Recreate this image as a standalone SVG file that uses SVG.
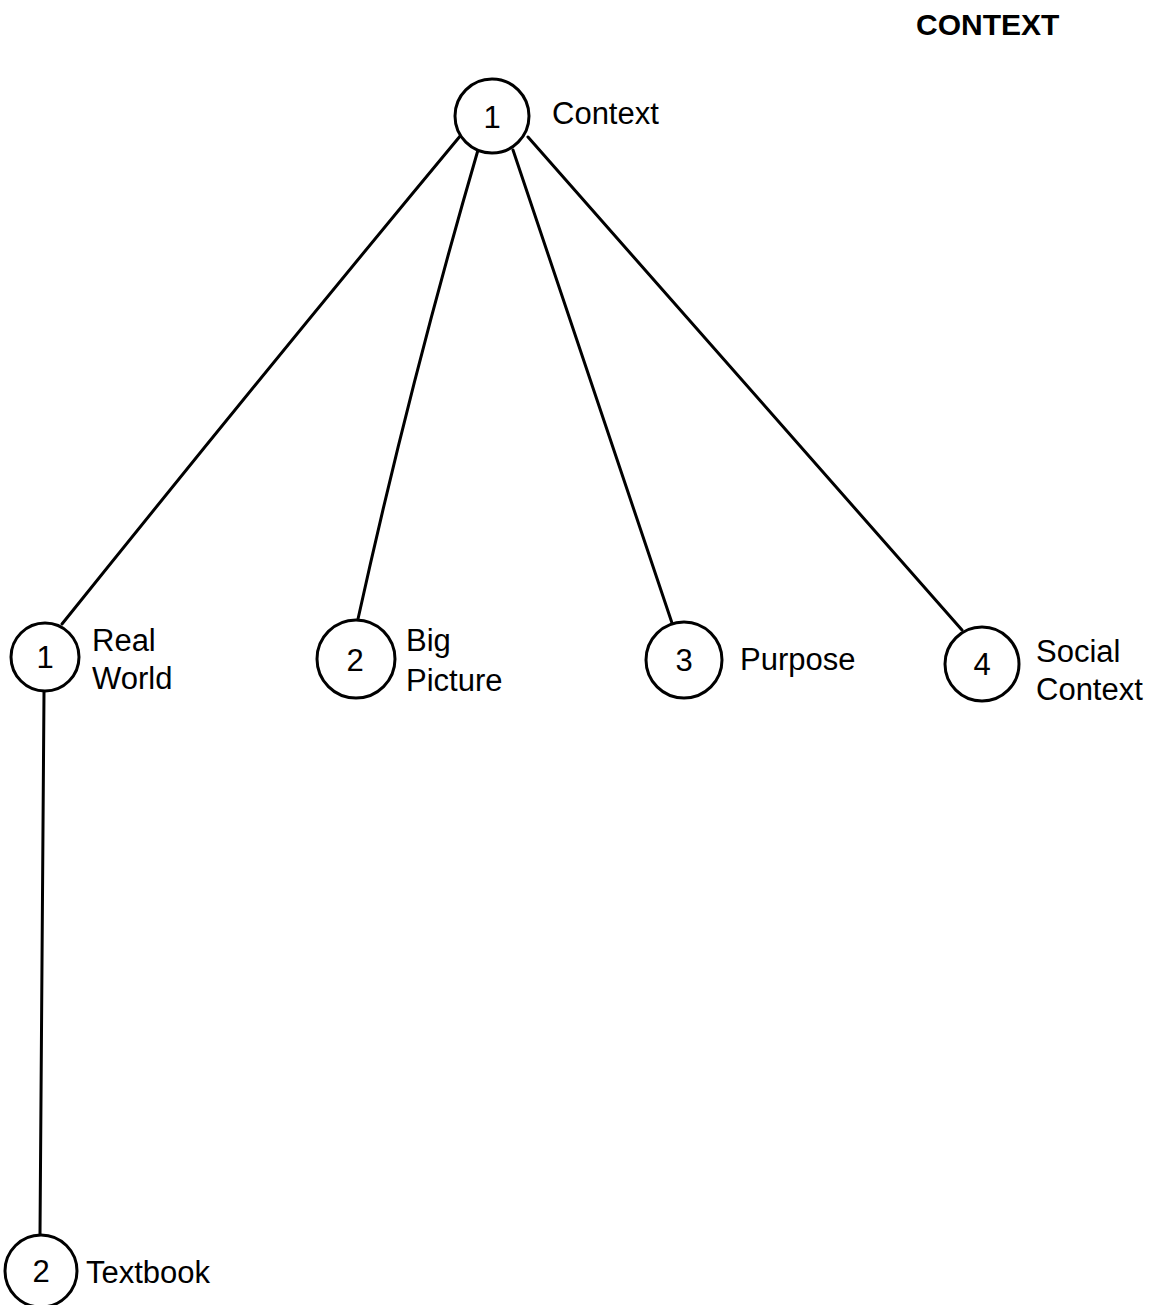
<svg xmlns="http://www.w3.org/2000/svg" width="1163" height="1305" viewBox="0 0 1163 1305">
<style>
  .edge { fill: none; stroke: #000; stroke-width: 3; stroke-linecap: round; }
  .node { fill: #fff; stroke: #000; stroke-width: 3; }
  .num { font-family: "Liberation Sans", Arial, sans-serif; font-size: 31px; fill: #000; text-anchor: middle; }
  .lbl { font-family: "Liberation Sans", Arial, sans-serif; font-size: 31px; fill: #000; }
  .title { font-family: "Liberation Sans", Arial, sans-serif; font-size: 30px; font-weight: bold; fill: #000; }
</style>
<rect x="0" y="0" width="1163" height="1305" fill="#fff"/>
<text class="title" x="916" y="35">CONTEXT</text>
<g id="connectors">
  <path class="edge" d="M461,135 Q270,365 62,624"/>
  <path class="edge" d="M478,150 Q410,383 358,619"/>
  <path class="edge" d="M513,150 L672,623"/>
  <path class="edge" d="M528,137 L962,630"/>
  <path class="edge" d="M44,692 L40,1234"/>
</g>
<g id="node-context">
  <circle class="node" cx="492" cy="116" r="37"/>
  <text class="num" x="492" y="128">1</text>
  <text class="lbl" x="552" y="124">Context</text>
</g>
<g id="node-real-world">
  <circle class="node" cx="45" cy="657" r="34"/>
  <text class="num" x="45" y="668">1</text>
  <text class="lbl" x="92" y="651">Real</text>
  <text class="lbl" x="92" y="689">World</text>
</g>
<g id="node-big-picture">
  <circle class="node" cx="356" cy="659" r="39"/>
  <text class="num" x="355" y="671">2</text>
  <text class="lbl" x="406" y="651">Big</text>
  <text class="lbl" x="406" y="691">Picture</text>
</g>
<g id="node-purpose">
  <circle class="node" cx="684" cy="660" r="38"/>
  <text class="num" x="684" y="671">3</text>
  <text class="lbl" x="740" y="670">Purpose</text>
</g>
<g id="node-social-context">
  <circle class="node" cx="982" cy="664" r="37"/>
  <text class="num" x="982" y="675">4</text>
  <text class="lbl" x="1036" y="662">Social</text>
  <text class="lbl" x="1036" y="700">Context</text>
</g>
<g id="node-textbook">
  <circle class="node" cx="41" cy="1271" r="36"/>
  <text class="num" x="41" y="1282">2</text>
  <text class="lbl" x="86" y="1283">Textbook</text>
</g>
</svg>
